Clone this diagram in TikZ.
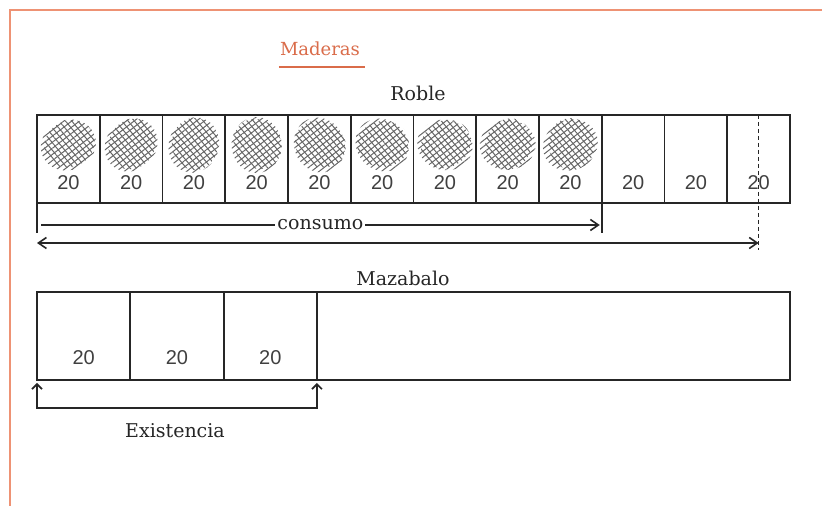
\documentclass[tikz,border=0pt]{standalone}
\usepackage{fontspec}
\setmainfont{DejaVu Serif}
\newfontfamily\numfont{Liberation Sans}
\usetikzlibrary{arrows.meta, positioning, patterns.meta}
\definecolor{frameorange}{RGB}{238, 146, 116}
\definecolor{titleorange}{RGB}{218, 108, 74}

\begin{document}
\begin{tikzpicture}[x=1pt, y=1pt,
  cell/.style={draw=black!85, line width=1.8pt, minimum height=88pt, inner sep=0pt, outer sep=0pt},
  num/.style={font=\numfont\fontsize{20}{24}\selectfont, inner sep=0pt, text=black!75},
  lbl/.style={font=\fontsize{19}{23}\selectfont, inner sep=2pt, text=black!85},
  conn/.style={draw=black!85, line width=1.6pt},
  >={Straight Barb[length=8pt,width=11pt]}
]
  \useasboundingbox (0,0) rectangle (822,506);
  \fill[white] (0,0) rectangle (822,506);

  % frame and title
  \draw[frameorange, line width=2.2pt] (822,496) -- (10,496) -- (10,0);
  \node[font=\fontsize{18}{22}\selectfont, text=titleorange, inner sep=2pt] (title) at (320,457) {Maderas};
  \draw[titleorange, line width=1.5pt] ([shift={(1pt,-9pt)}]title.south west) -- ([shift={(3pt,-9pt)}]title.south east);

  % Roble
  \node[lbl] (roble) at (418,413) {Roble};
  \foreach \i in {1,...,12}
    \node[cell, minimum width=62.75pt] (r\i) at ({37+62.75*(\i-0.5)},347) {};
  \foreach \i in {1,...,9} {
    \fill[pattern={Lines[angle=38,distance=4.8pt,line width=1pt]}, pattern color=black!60]
      ([yshift=14pt]r\i.center) ellipse [x radius=28pt, y radius=25pt, rotate=\i*23];
    \fill[pattern={Lines[angle=-50,distance=4.8pt,line width=1pt]}, pattern color=black!60]
      ([shift={(1pt,15pt)}]r\i.center) ellipse [x radius=26pt, y radius=23pt, rotate=\i*31];
  }
  \foreach \i in {1,...,12}
    \node[num, above=13pt] (n\i) at (r\i.south) {20};

  \coordinate (cstart) at ([yshift=-30pt]r1.south west);
  \coordinate (cend) at ([yshift=-30pt]r9.south east);
  \draw[conn, line width=1.8pt] (r1.south west) -- (cstart);
  \draw[conn, line width=1.8pt] (r9.south east) -- (cend);
  \draw[conn, ->] ([shift={(4pt,-22pt)}]r1.south west) -- node[lbl, fill=white] (consumo) {consumo} ([shift={(-2pt,-22pt)}]r9.south east);
  \draw[conn, dash pattern=on 4pt off 3pt] (r12.north) -- ([yshift=-47pt]r12.south);
  \draw[conn, <->] ([yshift=-40pt]r1.south west) -- ([yshift=-40pt]r12.south);

  % Mazabalo
  \node[lbl] (mazabalo) at (403,228) {Mazabalo};
  \foreach \i in {1,2,3}
    \node[cell, minimum width=93.33pt] (m\i) at ({37+93.33*(\i-0.5)},170) {};
  \node[cell, minimum width=473pt, anchor=west] (m4) at (m3.east) {};
  \foreach \i in {1,2,3}
    \node[num, above=15pt] (k\i) at (m\i.south) {20};

  \draw[conn, <->, >={Straight Barb[length=5pt,width=10pt]}] ([yshift=-3pt]m1.south west) -- ++(0,-25) -| ([yshift=-3pt]m3.south east);
  \node[lbl] (existencia) at (175,75) {Existencia};
\end{tikzpicture}
\end{document}
